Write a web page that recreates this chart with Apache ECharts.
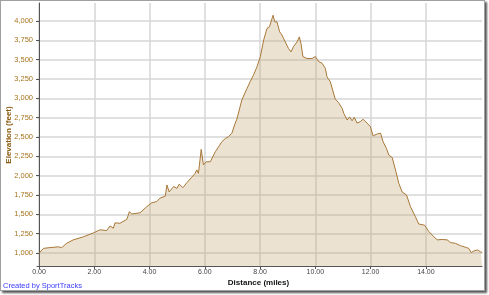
<!DOCTYPE html>
<html>
<head>
<meta charset="utf-8">
<script src="https://cdn.jsdelivr.net/npm/echarts@6/dist/echarts.min.js"></script>
<style>
html,body{margin:0;padding:0;background:#fff;}
#frame{position:absolute;left:0;top:0;width:483px;height:289px;border:1px solid #a0a0a0;box-shadow:2px 2px 2px #555;background:#fff;}
#chart{width:483px;height:289px;}
</style>
</head>
<body>
<div id="frame"><div id="chart"></div></div>
<script>
const distances = [0.01,0.16,0.40,0.70,0.82,1.00,1.24,1.61,1.97,2.21,2.45,2.57,2.69,2.75,2.93,3.18,3.27,3.36,3.66,3.90,4.08,4.26,4.38,4.57,4.63,4.71,4.87,4.99,5.07,5.21,5.35,5.53,5.65,5.71,5.77,5.87,5.95,6.05,6.20,6.38,6.50,6.62,6.74,6.86,6.98,7.10,7.16,7.34,7.53,7.64,7.76,7.89,8.01,8.13,8.25,8.34,8.43,8.47,8.53,8.61,8.71,8.79,8.91,9.03,9.12,9.21,9.34,9.42,9.48,9.55,9.70,9.88,10.00,10.12,10.24,10.36,10.42,10.54,10.72,10.84,10.97,11.03,11.15,11.24,11.33,11.41,11.51,11.63,11.73,11.87,11.99,12.09,12.24,12.36,12.45,12.57,12.66,12.78,12.90,13.02,13.14,13.30,13.44,13.62,13.74,13.95,14.11,14.29,14.41,14.59,14.77,14.89,15.07,15.25,15.43,15.55,15.64,15.73,15.86,15.98,16.04];
const elevations = [1000,1060,1070,1080,1070,1125,1170,1210,1260,1300,1290,1350,1320,1390,1385,1435,1535,1505,1520,1600,1650,1665,1710,1735,1880,1790,1860,1835,1890,1845,1910,1980,2030,2075,2030,2340,2140,2180,2180,2310,2375,2440,2480,2505,2550,2680,2730,2980,3130,3215,3300,3410,3540,3755,3905,3925,4030,4075,3990,3990,3860,3820,3730,3645,3600,3670,3730,3795,3710,3540,3515,3515,3540,3475,3455,3390,3280,3215,2990,2945,2870,2805,2720,2760,2710,2755,2680,2700,2730,2680,2635,2515,2540,2550,2440,2355,2265,2235,2075,1900,1790,1750,1600,1470,1375,1360,1275,1210,1170,1175,1170,1135,1125,1095,1075,1060,1005,1025,1040,1015,1005];
const xTicks = [0,2,4,6,8,10,12,14];
const yTicks = [1000,1250,1500,1750,2000,2250,2500,2750,3000,3250,3500,3750,4000];

const chart = echarts.init(document.getElementById('chart'), null, {renderer:'canvas'});
const data = distances.map((d,i)=>[d, elevations[i]]);
chart.setOption({
  animation:false,
  grid:{left:36, right:2, top:2, bottom:24, containLabel:false},
  xAxis:{
    type:'value', min:-0.072, max:16.03,
    axisLine:{show:true, onZero:false, lineStyle:{color:'#555', width:1}},
    axisTick:{show:true, length:3, customValues:xTicks, lineStyle:{color:'#555'}},
    axisLabel:{show:true, customValues:xTicks, margin:3, color:'#444', fontSize:7, fontFamily:'Liberation Sans',
      formatter:v=>Number(v).toFixed(2)},
    splitLine:{show:true, lineStyle:{color:'#d6d6d6', width:1.5}}
  },
  yAxis:{
    type:'value', min:832, max:4233,
    axisLine:{show:true, lineStyle:{color:'#555', width:1}},
    axisTick:{show:true, length:3, customValues:yTicks, lineStyle:{color:'#555'}},
    axisLabel:{show:true, customValues:yTicks, margin:4, color:'#a8731e', fontSize:7.5, fontFamily:'Liberation Sans',
      formatter:v=>Number(v).toLocaleString('en-US')},
    splitLine:{show:true, lineStyle:{color:'#d6d6d6', width:1.5}}
  },
  series:[{
    type:'line', data:data, showSymbol:false, smooth:false,
    lineStyle:{color:'#a87838', width:1},
    areaStyle:{color:'rgba(196,164,112,0.45)', origin:'start'},
    z:3
  }],
  graphic:[
    {type:'text', x:257.5, y:281.7, style:{text:'Distance (miles)', font:'bold 8px "Liberation Sans"', fill:'#111', textAlign:'center', textVerticalAlign:'middle'}},
    {type:'text', x:7.5, y:134, rotation:Math.PI/2, style:{text:'Elevation (feet)', font:'bold 8px "Liberation Sans"', fill:'#8a5a10', textAlign:'center', textVerticalAlign:'middle'}},
    {type:'text', x:2, y:285, style:{text:'Created by SportTracks', font:'7.5px "Liberation Sans"', fill:'#3a3aff', textAlign:'left', textVerticalAlign:'middle'}}
  ]
});
</script>
</body>
</html>
